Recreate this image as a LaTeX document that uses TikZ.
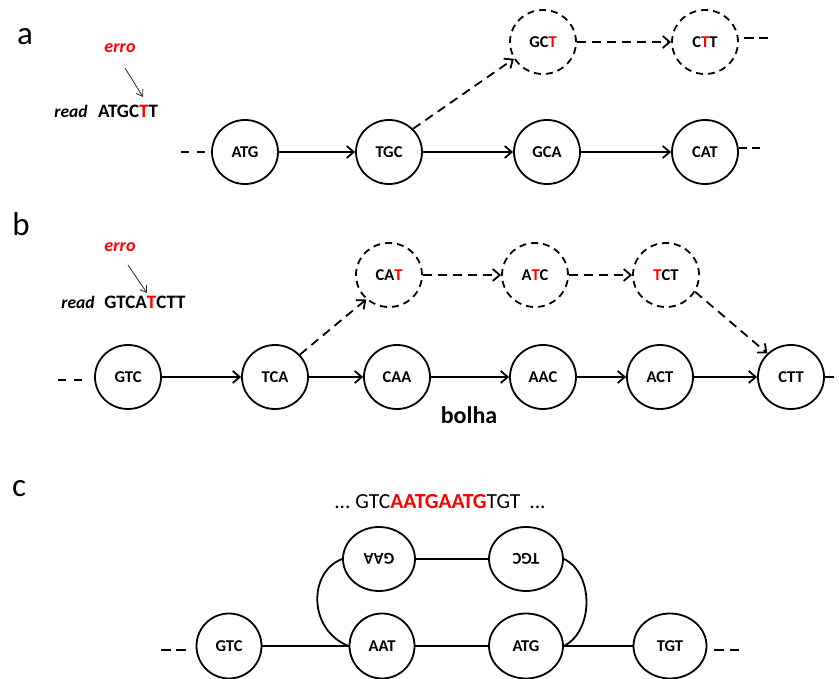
\documentclass[tikz,border=0pt]{standalone}
\usepackage{fontspec}
\setmainfont{Carlito}
\usetikzlibrary{arrows.meta,shapes.geometric}
\definecolor{errred}{RGB}{255,0,0}
\definecolor{pointer}{RGB}{40,40,40}
\newcommand{\er}[1]{\textcolor{errred}{#1}}

\begin{document}
\begin{tikzpicture}[x=1pt,y=-1pt,
  kmer/.style={ellipse,draw,line width=1.8pt,minimum width=66pt,minimum height=64pt,
    inner sep=0pt,font=\fontsize{16.5}{16.5}\selectfont\bfseries},
  kmerd/.style={kmer,dash pattern=on 7pt off 5pt},
  edge/.style={line width=1.8pt,-{Straight Barb[length=7pt,width=12pt]}},
  dedge/.style={edge,dash pattern=on 9pt off 6pt},
  link/.style={line width=1.8pt},
  stub/.style={line width=1.8pt,dash pattern=on 8pt off 8pt},
  panel/.style={font=\fontsize{33}{33}\selectfont},
  errlabel/.style={text=errred,font=\fontsize{18}{18}\selectfont\bfseries\itshape},
  readlabel/.style={font=\fontsize{17.5}{17.5}\selectfont\bfseries\itshape},
  seq/.style={font=\fontsize{19}{19}\selectfont\bfseries},
  pointto/.style={line width=0.8pt,draw=pointer,-{Straight Barb[length=6pt,width=8pt]}}
]
\useasboundingbox (0,0) rectangle (839,679);

% ---------- panel a: a sequencing error creates a tip ----------
\node[panel] (la) at (25,37) {a};
\node[errlabel] (ea) at (120,48) {erro};
\node[readlabel] (ra) at (71,111) {read};
\node[seq] (sa) at (128,111) {ATGC\er{T}T};
\coordinate (pa1) at (125,68);
\coordinate (pa2) at (143,97);
\draw[pointto] (pa1) -- (pa2);

\node[kmer] (a1) at (245,152) {ATG};
\node[kmer] (a2) at (389,152) {TGC};
\node[kmer] (a3) at (547,152) {GCA};
\node[kmer] (a4) at (705,152) {CAT};
\node[kmerd] (a5) at (543,42) {GC\er{T}};
\node[kmerd] (a6) at (705,42) {C\er{T}T};

\draw[edge] (a1) -- (a2);
\draw[edge] (a2) -- (a3);
\draw[edge] (a3) -- (a4);
\draw[dedge] (a2.44) -- (a5.210);
\draw[dedge] (a5) -- (a6);
\draw[stub] ([xshift=-6pt]a1.west) -- ++(-24,0);
\draw[stub,dash pattern=on 8pt off 5pt] ([yshift=4pt]a4.east) -- ++(23,0);
\draw[stub,dash pattern=on 10pt off 5pt] ([shift={(5pt,4pt)}]a6.east) -- ++(24,0);

% ---------- panel b: a sequencing error creates a bubble ----------
\node[panel] (lb) at (21,224) {b};
\node[errlabel] (eb) at (120,247) {erro};
\node[readlabel] (rb) at (78,302) {read};
\node[seq] (sb) at (145,302) {GTCA\er{T}CTT};
\coordinate (pb1) at (128,265);
\coordinate (pb2) at (147,293);
\draw[pointto] (pb1) -- (pb2);

\node[kmer] (b1) at (128,377) {GTC};
\node[kmer] (b2) at (275,377) {TCA};
\node[kmer] (b3) at (397,377) {CAA};
\node[kmer] (b4) at (543,377) {AAC};
\node[kmer] (b5) at (660,377) {ACT};
\node[kmer] (b6) at (791,377) {CTT};
\node[kmerd] (b7) at (389,275) {CA\er{T}};
\node[kmerd] (b8) at (535,275) {A\er{T}C};
\node[kmerd] (b9) at (666,275) {\er{T}CT};

\draw[edge] (b1) -- (b2);
\draw[edge] (b2) -- (b3);
\draw[edge] (b3) -- (b4);
\draw[edge] (b4) -- (b5);
\draw[edge] (b5) -- (b6);
\draw[dedge] (b2.42) -- (b7.227);
\draw[dedge] (b7) -- (b8);
\draw[dedge] (b8) -- (b9);
\draw[dedge] (b9.-30) -- (b6.135);
\draw[stub] ([shift={(-12pt,-3pt)}]b1.west) -- ++(-24,0);
\draw[stub,dash pattern=on 9pt off 6pt] (b6.east) -- ++(24,0);

\node[font=\fontsize{24}{24}\selectfont\bfseries] (bub) at (469,415) {bolha};

% ---------- panel c: a repeat folds the graph ----------
\node[panel] (lc) at (19,489) {c};
\node[font=\fontsize{21.5}{21.5}\selectfont] (sc) at (440,502)
  {...\ GTC{\bfseries\color{errred}AATGAATG}TGT\hspace{9pt}...};

\node[kmer,minimum width=65pt,minimum height=65pt] (c1) at (229,646) {GTC};
\node[kmer,minimum width=65pt,minimum height=65pt] (c2) at (382,646) {AAT};
\node[kmer,minimum width=74pt,minimum height=65pt] (c3) at (526,646) {ATG};
\node[kmer,minimum width=73pt,minimum height=65pt] (c4) at (670,646) {TGT};
\node[kmer,minimum width=72pt,minimum height=64pt] (c5) at (379,559) {\rotatebox[origin=c]{180}{GAA}};
\node[kmer,minimum width=74pt,minimum height=64pt] (c6) at (526,559) {\rotatebox[origin=c]{180}{TGC}};

\draw[link] (c1) -- (c2);
\draw[link] (c2) -- (c3);
\draw[link] (c3) -- (c4);
\draw[link] (c5) -- (c6);
\draw[link] (c2.west) .. controls (308,630) and (308,572) .. (c5.west);
\draw[link] (c6.east) .. controls (594,573) and (594,631) .. (c3.east);
\draw[stub,dash pattern=on 10pt off 5pt] ([shift={(-10pt,-4pt)}]c1.west) -- ++(-25,0);
\draw[stub,dash pattern=on 10pt off 6pt] ([shift={(7pt,-4pt)}]c4.east) -- ++(25,0);
\end{tikzpicture}
\end{document}
